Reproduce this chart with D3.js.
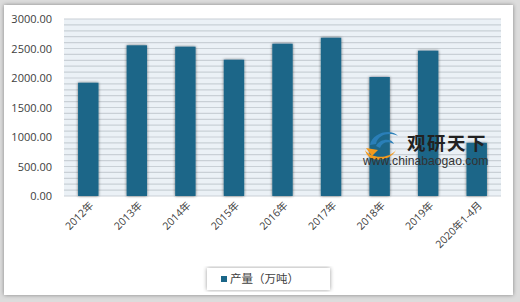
<!DOCTYPE html>
<html><head><meta charset="utf-8">
<script src="https://cdn.jsdelivr.net/npm/d3@7"></script>
<style>body{margin:0;background:#fff;}svg{display:block;}</style>
</head><body>
<script>
const categories = ["2012年","2013年","2014年","2015年","2016年","2017年","2018年","2019年","2020年1-4月"];
const values = [1920, 2554, 2531, 2310, 2581, 2683, 2017, 2463, 900];
const yTicks = [0, 500, 1000, 1500, 2000, 2500, 3000];
const seriesName = "产量（万吨）";

const W = 520, H = 302;
const svg = d3.select("body").append("svg").attr("width", W).attr("height", H);
const defs = svg.append("defs");
const f = defs.append("filter").attr("id","sh").attr("x","-50%").attr("y","-50%").attr("width","200%").attr("height","200%");
f.append("feGaussianBlur").attr("in","SourceAlpha").attr("stdDeviation",1.6).attr("result","b");
f.append("feOffset").attr("in","b").attr("dx",0).attr("dy",0).attr("result","o");
f.append("feComponentTransfer").attr("in","o").attr("result","o2").append("feFuncA").attr("type","linear").attr("slope",0.55);
const m = f.append("feMerge"); m.append("feMergeNode").attr("in","o2"); m.append("feMergeNode").attr("in","SourceGraphic");
const f2 = defs.append("filter").attr("id","psh").attr("x","-5%").attr("y","-5%").attr("width","110%").attr("height","110%");
f2.append("feGaussianBlur").attr("in","SourceAlpha").attr("stdDeviation",2).attr("result","b");
f2.append("feComponentTransfer").attr("in","b").attr("result","o2").append("feFuncA").attr("type","linear").attr("slope",0.4);
const m2 = f2.append("feMerge"); m2.append("feMergeNode").attr("in","o2"); m2.append("feMergeNode").attr("in","SourceGraphic");

// outer background and panel
svg.append("rect").attr("width",W).attr("height",H).attr("fill","#dcdcdc");
svg.append("rect").attr("x",4).attr("y",5).attr("width",509).attr("height",290).attr("fill","#fff").attr("filter","url(#psh)");

const x = d3.scaleBand().domain(categories).range([64, 501]).paddingInner(0.58).paddingOuter(0.29);
const y = d3.scaleLinear().domain([0, 3000]).range([196, 19]);

// plot background
svg.append("rect").attr("x",64).attr("y",y(3000)).attr("width",437).attr("height",y(0)-y(3000)).attr("fill","#ebf1f6");
// grid lines every 100
const grid = d3.range(0, 3001, 100);
svg.append("g").selectAll("line").data(grid).join("line")
  .attr("x1",64).attr("x2",501).attr("y1",d=>y(d)).attr("y2",d=>y(d))
  .attr("stroke","#c9d0d6").attr("stroke-width",1.2);

// bars
svg.append("g").selectAll("rect").data(values).join("rect")
  .attr("x",(d,i)=>x(categories[i])).attr("width",x.bandwidth())
  .attr("y",d=>y(d)).attr("height",d=>y(0)-y(d))
  .attr("fill","#1b6688").attr("filter","url(#sh)");

// y axis
const ya = svg.append("g").attr("transform","translate(52,0)")
  .call(d3.axisLeft(y).tickValues(yTicks).tickFormat(d3.format(".2f")).tickSize(0).tickPadding(0));
ya.select(".domain").remove();
ya.selectAll("text").attr("font-family","Open Sans, Liberation Sans, sans-serif").attr("font-size",11).attr("fill","#404040");

// x axis
const xa = svg.append("g").attr("transform","translate(0,196)")
  .call(d3.axisBottom(x).tickSize(0).tickPadding(0));
xa.select(".domain").remove();
xa.selectAll("text")
  .attr("font-family","Open Sans, Noto Sans CJK SC, sans-serif").attr("font-size",10.5).attr("fill","#404040")
  .attr("text-anchor","end").attr("dy",0)
  .attr("transform","translate(6,10) rotate(-45)");

// legend
const lg = svg.append("g");
lg.append("rect").attr("x",207).attr("y",268).attr("width",123).attr("height",22).attr("fill","#fff").attr("filter","url(#psh)");
lg.append("rect").attr("x",221).attr("y",276).attr("width",6).attr("height",6).attr("fill","#1b6688");
lg.append("text").attr("x",230).attr("y",283).attr("font-family","Noto Sans CJK SC, sans-serif").attr("font-size",11.5).attr("fill","#404040").text(seriesName);

// watermark
const wm = svg.append("g");
wm.append("path").attr("d","M370,145 C372,132 392,128 398,136 C390,132 378,134 376,144 Z").attr("fill","#2a7fb8");
wm.append("path").attr("d","M376,146 C380,138 392,138 394,144 C388,141 382,142 380,148 Z").attr("fill","#2a7fb8");
wm.append("path").attr("d","M365,150 C370,158 388,160 396,150 C390,162 368,164 365,150 Z").attr("fill","#f39a1e");
wm.append("path").attr("d","M366,148 L378,150 L372,156 Z").attr("fill","#f39a1e");
wm.append("text").attr("x",407).attr("y",150).attr("font-family","Noto Sans CJK SC, sans-serif").attr("font-weight","bold").attr("font-size",18.5).attr("fill","#222").attr("letter-spacing",1.5).text("观研天下");
wm.append("text").attr("x",363).attr("y",165).attr("font-family","Liberation Sans, Arial, sans-serif").attr("font-size",12.2).attr("fill","#333").text("www.chinabaogao.com");
</script>
</body></html>
